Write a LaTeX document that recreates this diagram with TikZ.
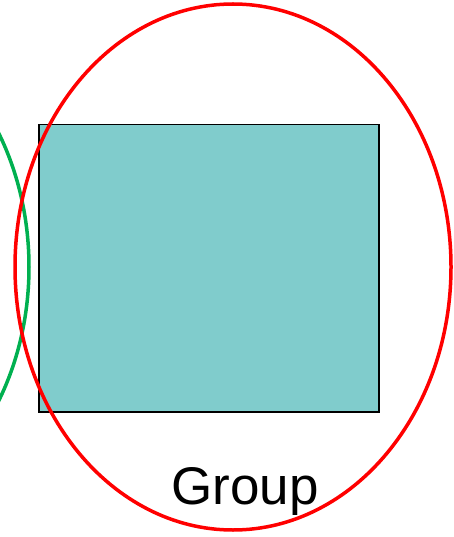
\documentclass[tikz,border=0pt]{standalone}
\usepackage{fontspec}
\setmainfont{Liberation Sans}
\usetikzlibrary{shapes.geometric}
\definecolor{boxteal}{RGB}{128,204,204}
\definecolor{ringgreen}{RGB}{0,176,80}
\begin{document}
\begin{tikzpicture}[x=1pt, y=-1pt,
      ring/.style={ellipse, line width=3.5pt, minimum width=436pt,
                   minimum height=526pt, inner sep=0pt},
      box/.style={draw=black, fill=boxteal, line width=1.5pt},
    ]
      \useasboundingbox (0,0) rectangle (453,537);
      \begin{scope}
        \clip (0,0) rectangle (453,537);
        \node[ring, draw=ringgreen] (other) at (-189,267) {};
      \end{scope}
      \node[box, minimum width=340pt, minimum height=287pt, inner sep=0pt,
            anchor=north west] (rect) at (38,124) {};
      \node[ring, draw=red] (group) at (233,267) {};
      \node[anchor=base, font=\fontsize{53}{60}\selectfont, inner sep=0pt]
           (label) at (245,504) {Group};
    \end{tikzpicture}
\end{document}
